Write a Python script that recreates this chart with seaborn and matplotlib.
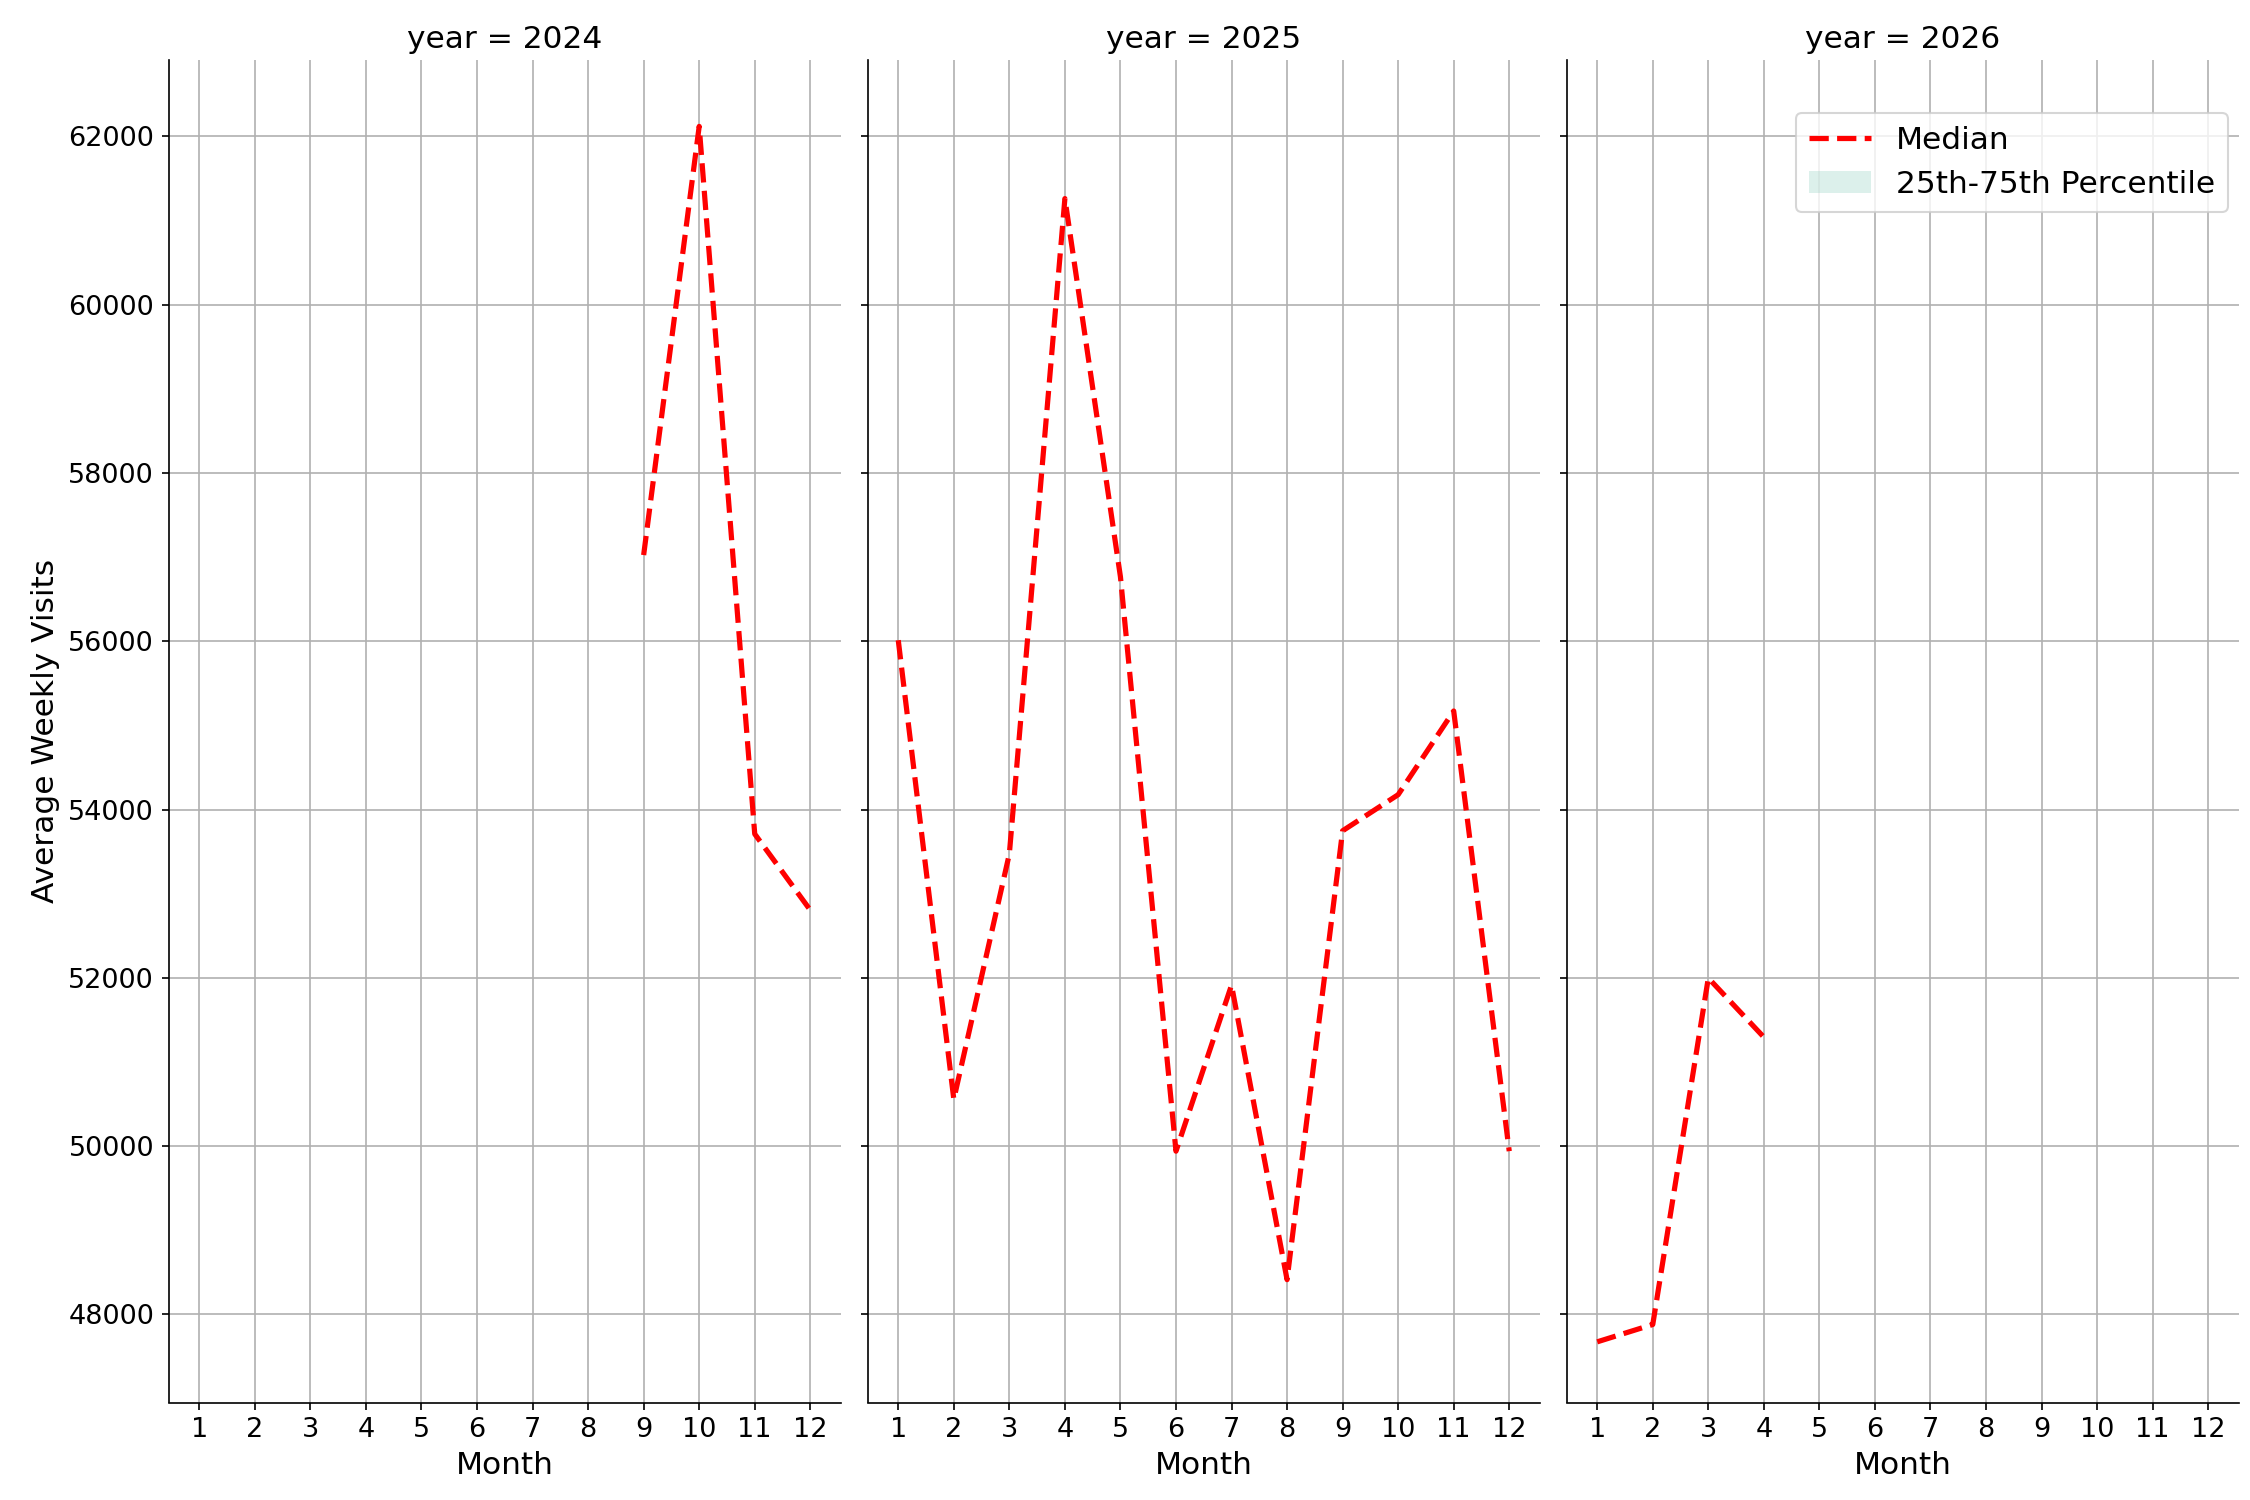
import matplotlib
matplotlib.use("Agg")
import matplotlib.pyplot as plt
import seaborn as sns
import pandas as pd

years = [2024]*4 + [2025]*12 + [2026]*4
months = [9,10,11,12] + list(range(1,13)) + [1,2,3,4]
median = [57025,62120,53710,52805,
          56013,50557,53473,61262,56767,49940,51913,48413,53748,54177,55172,49940,
          47674,47880,51998,51295]
q25 = median
q75 = median
df = pd.DataFrame({"year": years, "Month": months, "median": median, "q25": q25, "q75": q75})

plt.style.use("default")
g = sns.FacetGrid(df, col="year", col_order=[2024, 2025, 2026], height=10, aspect=0.5,
                  sharex=True, sharey=True)

def draw(data, **kw):
    ax = plt.gca()
    ax.fill_between(data["Month"], data["q25"], data["q75"], color="#8ecfbf", alpha=0.3,
                    label="25th-75th Percentile", linewidth=0)
    sns.lineplot(data=data, x="Month", y="median", ax=ax, color="red", linestyle="--",
                 linewidth=2.5, label="Median")
    if ax.get_legend():
        ax.get_legend().remove()

g.map_dataframe(draw)
g.fig.set_size_inches(15, 10)
for ax in g.axes.flat:
    ax.set_xticks(range(1, 13))
    ax.set_xlim(0.45, 12.55)
    ax.grid(True, color="#b0b0b0")
    ax.tick_params(labelsize=13)
    ax.set_xlabel("Month", fontsize=15)
g.axes.flat[0].set_ylim(46953, 62909)
g.axes.flat[0].set_ylabel("Average Weekly Visits", fontsize=15)
g.set_titles("year = {col_name}", size=15)
ax3 = g.axes.flat[2]
h, l = ax3.get_legend_handles_labels()
order = [l.index("Median"), l.index("25th-75th Percentile")]
ax3.legend([h[i] for i in order], [l[i] for i in order], loc="upper right",
           bbox_to_anchor=(1.007, 0.972), fontsize=15)
g.fig.subplots_adjust(left=0.075, right=0.995, bottom=0.065, top=0.96, wspace=0.04)
g.fig.savefig("out.png", dpi=150)
